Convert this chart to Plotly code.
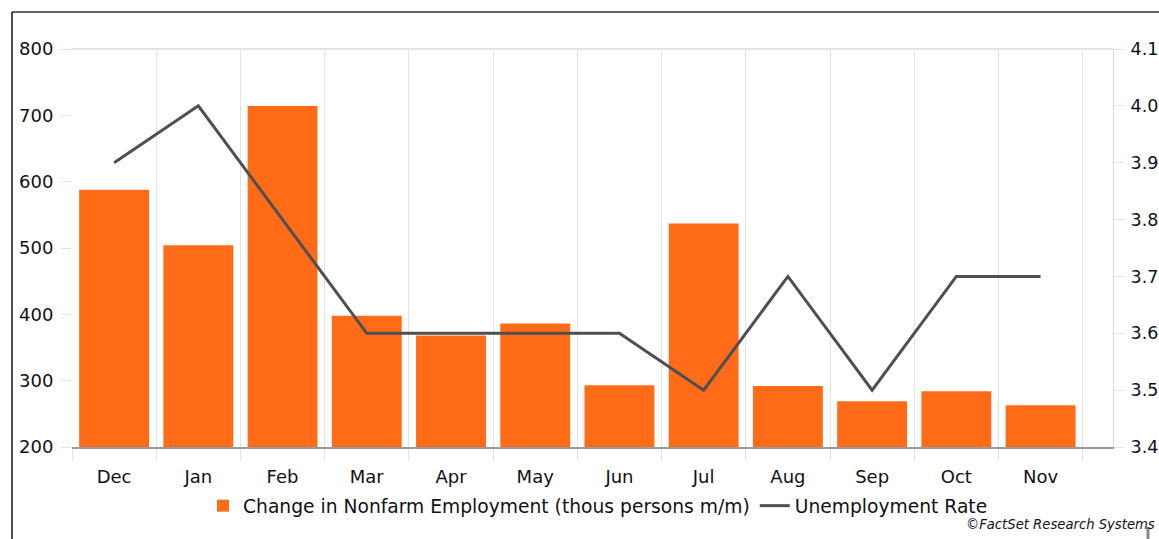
import plotly.graph_objects as go

months = ["Dec", "Jan", "Feb", "Mar", "Apr", "May", "Jun", "Jul", "Aug", "Sep", "Oct", "Nov"]
nonfarm_change = [588, 504, 714, 398, 368, 386, 293, 537, 292, 269, 284, 263]
unemployment_rate = [3.9, 4.0, 3.8, 3.6, 3.6, 3.6, 3.6, 3.5, 3.7, 3.5, 3.7, 3.7]

W, H = 1159, 539
L, R, T, B = 72, 1113, 49, 447

def px(x):
    return (x - L) / (R - L)

def py(y):
    return (B - y) / (B - T)

FONT = "DejaVu Sans, Verdana, sans-serif"

fig = go.Figure()
fig.add_trace(go.Bar(
    x=months, y=nonfarm_change, name="Change in Nonfarm Employment (thous persons m/m)",
    marker=dict(color="#FF6B17", line=dict(width=0)), yaxis="y",
))
fig.add_trace(go.Scatter(
    x=months, y=unemployment_rate, name="Unemployment Rate", mode="lines",
    line=dict(color="#4D4F53", width=3), yaxis="y2",
))

fig.update_layout(
    width=W, height=H,
    margin=dict(l=L, r=W - R, t=T, b=H - B, pad=0, autoexpand=False),
    paper_bgcolor="white", plot_bgcolor="white",
    font=dict(family=FONT, size=17, color="#111111"),
    bargap=0.17,
    showlegend=True,
    legend=dict(orientation="h", x=px(598), xanchor="center", y=py(506), yanchor="middle",
                font=dict(size=18.7), traceorder="normal", itemwidth=30,
                bgcolor="rgba(0,0,0,0)"),
    xaxis=dict(
        type="category", range=[-0.5, 11.86], tickson="boundaries", automargin=False,
        showgrid=True, gridcolor="#E3E3E3", gridwidth=1,
        ticks="outside", ticklen=12, tickcolor="#E3E3E3", tickwidth=1,
        showline=True, linecolor="#9A9A9A", linewidth=2,
        tickfont=dict(size=18), zeroline=False, ticklabelstandoff=12,
    ),
    yaxis=dict(
        range=[200, 800], dtick=100, showgrid=False, zeroline=False, automargin=False,
        ticks="outside", ticklen=10, tickcolor="#E3E3E3", tickwidth=1,
        showline=False, tickfont=dict(size=18), ticklabelstandoff=4,
    ),
    yaxis2=dict(
        range=[3.4, 4.1], dtick=0.1, tickformat=".1f", overlaying="y", side="right",
        showgrid=False, zeroline=False, automargin=False,
        ticks="outside", ticklen=10, tickcolor="#E3E3E3", tickwidth=1,
        showline=True, linecolor="#D8D8D8", linewidth=1, tickfont=dict(size=17.5),
        ticklabelstandoff=3,
    ),
)

# top border of plot area
fig.add_shape(type="line", xref="paper", yref="paper", x0=0, x1=1, y0=1, y1=1,
              line=dict(color="#E3E3E3", width=2))
# outer frame lines of the original image
fig.add_shape(type="line", xref="paper", yref="paper", x0=px(12), x1=px(1159), y0=py(12), y1=py(12),
              line=dict(color="#666666", width=2))
fig.add_shape(type="line", xref="paper", yref="paper", x0=px(12), x1=px(12), y0=py(12), y1=py(539),
              line=dict(color="#111111", width=1.5))
fig.add_shape(type="line", xref="paper", yref="paper", x0=px(1148), x1=px(1148), y0=py(527), y1=py(539),
              line=dict(color="#888888", width=3))

fig.add_annotation(text="<i>©FactSet Research Systems</i>", xref="paper", yref="paper",
                   x=px(1157), xanchor="right", y=py(524), yanchor="middle", showarrow=False,
                   font=dict(family=FONT, size=13.2, color="#111111"))

fig.write_html("out.html")
